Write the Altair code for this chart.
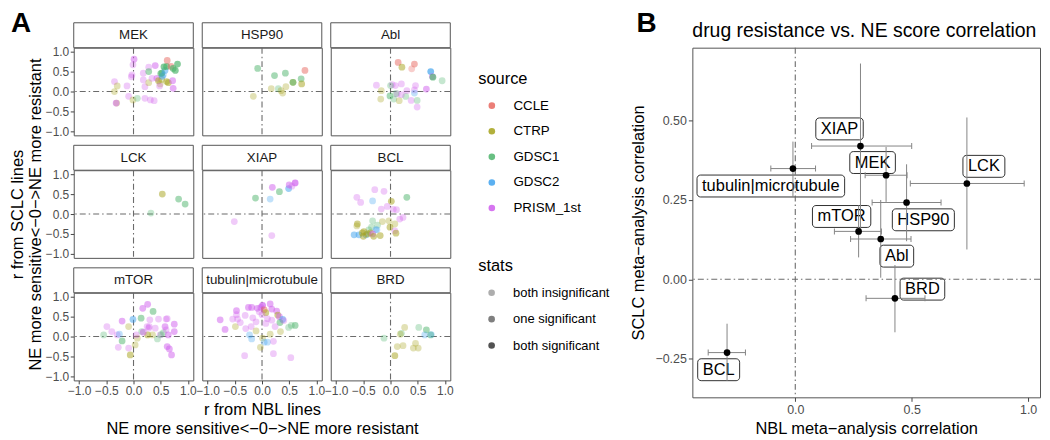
import altair as alt
import pandas as pd

FONT = "Liberation Sans"

# ---------------- Panel A data ----------------
SOURCES = ["CCLE", "CTRP", "GDSC1", "GDSC2", "PRISM_1st"]
SOURCE_COLORS = ["#E8675F", "#A5A21A", "#4DB46C", "#3EA2EE", "#CF5DED"]
SRC = {"C": "CCLE", "T": "CTRP", "G1": "GDSC1", "G2": "GDSC2", "P": "PRISM_1st"}
STATS = ["both insignificant", "one significant", "both significant"]
STATS_ALPHA = [0.32, 0.68, 1.0]

DRUGS = ["MEK", "HSP90", "Abl", "LCK", "XIAP", "BCL", "mTOR", "tubulin|microtubule", "BRD"]
A_TICKS = [-1.0, -0.5, 0.0, 0.5, 1.0]

# (r from NBL, r from SCLC, source, stats index)
MEK = [
    (0.01, 0.81, "P", 1), (-0.01, 0.67, "P", 0), (-0.35, 0.25, "P", 0), (-0.30, 0.14, "T", 0),
    (-0.35, 0.00, "T", 0), (-0.31, -0.29, "T", 0), (-0.32, -0.29, "P", 1), (-0.12, 0.14, "P", 0),
    (-0.04, 0.37, "P", 0), (-0.09, -0.12, "P", 0), (-0.01, -0.21, "T", 0), (0.07, -0.17, "G1", 0),
    (0.21, -0.17, "P", 0), (0.31, -0.21, "P", 0), (0.38, -0.23, "P", 0), (0.18, 0.46, "P", 0),
    (0.28, 0.61, "P", 0), (0.40, 0.65, "P", 1), (0.28, 0.50, "G1", 1), (0.18, 0.29, "P", 0),
    (0.21, 0.12, "P", 0), (0.28, 0.22, "T", 0), (0.34, 0.33, "P", 0), (0.43, 0.33, "P", 1),
    (0.46, 0.27, "T", 1), (0.49, 0.19, "T", 0), (0.52, 0.30, "T", 0), (0.48, 0.14, "P", 0),
    (0.50, 0.45, "G1", 1), (0.53, 0.38, "G2", 1), (0.52, 0.46, "G1", 2), (0.55, 0.42, "G2", 0),
    (0.58, 0.53, "G2", 1), (0.56, 0.62, "G1", 2), (0.61, 0.63, "G1", 2), (0.62, 0.78, "C", 1),
    (0.69, 0.63, "C", 1), (0.73, 0.58, "G1", 2), (0.77, 0.53, "G1", 2), (0.81, 0.69, "G1", 2),
    (0.61, 0.25, "T", 1), (0.64, 0.22, "T", 1), (0.72, 0.27, "P", 1), (0.73, 0.08, "P", 1),
    (-0.03, 0.42, "P", 0),
]
HSP90 = [
    (-0.08, 0.58, "G1", 1), (-0.16, -0.12, "T", 0), (0.17, 0.07, "T", 0), (0.23, 0.40, "G1", 1),
    (0.30, 0.07, "G1", 0), (0.35, 0.02, "T", 0), (0.38, -0.04, "T", 0), (0.43, 0.46, "G1", 1),
    (0.44, 0.12, "T", 0), (0.57, 0.23, "T", 1), (0.57, 0.23, "G1", 1), (0.72, 0.32, "G1", 1),
    (0.73, 0.19, "T", 1), (0.79, 0.53, "C", 1),
]
ABL = [
    (0.14, 0.73, "C", 1), (0.21, 0.61, "T", 1), (0.44, 0.69, "C", 1), (0.39, 0.57, "C", 0),
    (0.74, 0.50, "G2", 2), (0.77, 0.375, "P", 1), (0.78, 0.36, "G1", 2), (0.95, 0.27, "G1", 0),
    (-0.26, 0.16, "P", 0), (-0.17, 0.02, "T", 0), (-0.18, -0.19, "T", 0), (-0.01, -0.11, "G1", 1),
    (0.03, 0.17, "P", 0), (0.09, 0.15, "P", 0), (0.20, 0.19, "P", 0), (0.06, -0.19, "G1", 0),
    (0.16, -0.23, "T", 0), (0.28, -0.125, "G1", 0), (0.20, -0.08, "P", 0), (0.30, 0.02, "P", 0),
    (0.38, -0.225, "P", 0), (0.49, -0.225, "G1", 0), (0.49, -0.39, "P", 0), (0.44, 0.04, "P", 0),
    (0.46, 0.15, "P", 0), (0.44, -0.04, "G2", 0), (0.66, 0.06, "P", 1), (0.12, -0.06, "P", 0),
    (0.00, 0.15, "G1", 0), (0.10, -0.05, "G1", 0),
]
LCK = [
    (0.53, 0.50, "T", 1), (0.32, 0.025, "G1", 0), (0.83, 0.375, "G1", 1), (0.95, 0.25, "G1", 1),
]
XIAP = [
    (-0.51, -0.19, "P", 0), (-0.12, 0.40, "G1", 1), (0.15, 0.375, "G2", 0), (0.19, 0.67, "P", 1),
    (0.32, 0.56, "G1", 1), (0.49, 0.64, "G2", 1), (0.55, 0.70, "P", 0), (0.50, 0.73, "P", 1),
    (0.61, 0.78, "P", 2), (0.18, -0.54, "P", 0),
]
BCL = [
    (-0.62, 0.42, "P", 0), (-0.55, 0.29, "P", 0), (-0.29, 0.61, "P", 0), (-0.12, 0.57, "P", 0),
    (-0.33, 0.33, "G2", 0), (0.015, 0.32, "T", 1), (0.30, 0.42, "G1", 1), (-0.06, 0.19, "P", 0),
    (-0.17, 0.125, "P", 0), (0.11, 0.11, "P", 0), (0.05, 0.12, "P", 0), (0.23, -0.085, "P", 0),
    (0.17, -0.125, "P", 0), (-0.61, -0.25, "T", 1), (-0.62, -0.30, "T", 0), (-0.33, -0.17, "G1", 0),
    (-0.35, -0.33, "G1", 0), (-0.24, -0.28, "G1", 0), (-0.27, -0.39, "G2", 0), (-0.40, -0.40, "G1", 0),
    (-0.25, -0.40, "G2", 0), (-0.15, -0.19, "T", 0), (-0.03, -0.17, "T", 0), (-0.01, -0.33, "T", 1),
    (0.08, -0.25, "T", 0), (0.08, -0.42, "P", 0), (0.10, -0.48, "T", 1), (-0.67, -0.52, "G2", 1),
    (-0.58, -0.52, "G2", 1), (-0.45, -0.52, "G2", 1), (-0.52, -0.475, "T", 1), (-0.50, -0.56, "T", 1),
    (-0.49, -0.44, "T", 1), (-0.42, -0.50, "T", 1), (-0.37, -0.47, "T", 1), (-0.33, -0.50, "P", 1),
    (-0.31, -0.56, "T", 1), (-0.19, -0.54, "T", 1),
]
MTOR = [
    (-0.01, 0.43, "G2", 1), (0.17, 0.71, "P", 1), (0.26, 0.81, "P", 1), (0.36, 0.63, "G1", 1),
    (0.14, 0.46, "G1", 1), (-0.21, 0.39, "P", 1), (-0.09, 0.25, "T", 0), (-0.49, 0.25, "P", 0),
    (-0.40, 0.125, "P", 0), (-0.55, 0.04, "G1", 0), (-0.30, 0.04, "P", 0), (-0.26, 0.06, "G2", 0),
    (-0.21, -0.11, "G1", 1), (-0.28, -0.27, "P", 0), (-0.09, -0.29, "P", 0), (0.03, -0.21, "T", 0),
    (-0.06, -0.46, "T", 1), (0.07, -0.04, "T", 0), (0.15, 0.125, "G1", 0), (0.28, 0.21, "P", 0),
    (0.29, 0.25, "P", 0), (0.25, 0.25, "P", 0), (0.26, 0.04, "T", 1), (0.35, 0.04, "T", 0),
    (0.40, 0.21, "P", 0), (0.46, 0.44, "P", 0), (0.30, 0.42, "P", 0), (0.60, 0.44, "P", 0),
    (0.62, 0.45, "P", 0), (0.49, 0.04, "P", 0), (0.44, -0.06, "G1", 0), (0.51, 0.05, "G1", 0),
    (0.55, 0.10, "G1", 0), (0.58, 0.25, "P", 1), (0.60, 0.17, "P", 0), (0.64, 0.04, "P", 1),
    (0.62, -0.25, "P", 1), (0.66, -0.31, "P", 1), (0.70, -0.46, "P", 1), (0.75, 0.31, "P", 1),
    (0.75, 0.125, "P", 1), (0.05, 0.04, "P", 0), (0.18, 0.11, "P", 1),
]
TUBULIN = [
    (-0.77, 0.42, "P", 1), (-0.68, 0.18, "P", 1), (-0.47, 0.65, "P", 1), (-0.47, 0.55, "P", 0),
    (-0.54, 0.44, "P", 0), (-0.45, 0.44, "P", 0), (-0.49, 0.25, "T", 0), (-0.40, 0.35, "P", 0),
    (-0.31, 0.53, "P", 0), (-0.30, 0.20, "P", 0), (-0.25, 0.73, "P", 1), (-0.19, 0.73, "P", 1),
    (-0.09, 0.71, "P", 1), (-0.02, 0.73, "P", 1), (0.01, 0.78, "P", 2), (0.04, 0.67, "C", 1),
    (0.07, 0.60, "T", 1), (0.15, 0.82, "P", 1), (0.18, 0.69, "P", 1), (0.27, 0.64, "P", 1),
    (0.29, 0.54, "T", 1), (0.32, 0.50, "P", 1), (0.38, 0.43, "G2", 1), (0.33, 0.35, "G1", 1),
    (0.49, 0.23, "G1", 0), (0.54, 0.28, "G1", 0), (0.61, 0.28, "G1", 1), (-0.17, 0.47, "P", 0),
    (-0.11, 0.37, "P", 0), (-0.20, 0.25, "P", 0), (-0.11, 0.14, "T", 0), (0.07, 0.33, "P", 0),
    (0.18, 0.41, "P", 0), (0.24, 0.25, "P", 0), (0.34, 0.125, "T", 0), (0.40, 0.40, "P", 0),
    (0.15, 0.06, "T", 0), (0.01, -0.04, "T", 0), (-0.23, 0.04, "G2", 0), (-0.19, -0.06, "G2", 0),
    (0.04, -0.14, "G2", 0), (0.10, -0.14, "G2", 0), (0.21, -0.12, "P", 0), (-0.03, -0.27, "T", 0),
    (-0.32, -0.48, "P", 0), (0.21, -0.43, "P", 0), (0.53, -0.53, "P", 0), (0.00, 0.55, "P", 0),
    (-0.05, 0.62, "P", 0), (0.10, 0.45, "P", 0),
]
BRD = [
    (-0.12, -0.04, "G1", 0), (0.26, 0.23, "T", 0), (0.20, 0.08, "G1", 0), (0.18, 0.06, "T", 0),
    (0.52, 0.23, "G1", 0), (0.66, 0.17, "G1", 1), (0.63, 0.04, "G2", 0), (0.74, 0.04, "G1", 1),
    (0.75, 0.05, "G2", 0), (0.125, -0.25, "T", 0), (0.23, -0.23, "T", 0), (0.46, -0.17, "T", 0),
    (0.42, -0.29, "T", 0), (0.51, -0.29, "T", 0), (0.08, -0.48, "T", 1),
]
PANEL_POINTS = [MEK, HSP90, ABL, LCK, XIAP, BCL, MTOR, TUBULIN, BRD]

A_XTITLE = ["r from NBL lines", "NE more sensitive<\u22120\u2212>NE more resistant"]
A_YTITLE = ["r from SCLC lines", "NE more sensitive<\u22120\u2212>NE more resistant"]

# ---------------- Panel B data ----------------
B_TARGETS = ["XIAP", "MEK", "tubulin|microtubule", "LCK", "HSP90", "mTOR", "Abl", "BRD", "BCL"]
B_X = [0.28, 0.39, -0.01, 0.737, 0.478, 0.272, 0.367, 0.428, -0.293]
B_Y = [0.42, 0.328, 0.349, 0.302, 0.242, 0.151, 0.127, -0.06, -0.231]
B_X_LO = [0.07, 0.30, -0.105, 0.494, 0.33, 0.168, 0.2375, 0.304, -0.374]
B_X_HI = [0.50, 0.48, 0.087, 0.983, 0.626, 0.37, 0.497, 0.557, -0.214]
B_Y_LO = [0.16, 0.244, 0.26, 0.094, 0.12, 0.069, 0.005, -0.167, -0.32]
B_Y_HI = [0.68, 0.417, 0.434, 0.51, 0.3625, 0.233, 0.25, 0.045, -0.14]
LABEL_X = [0.19, 0.332, -0.105, 0.81, 0.55, 0.199, 0.436, 0.546, -0.329]
LABEL_Y = [0.474, 0.368, 0.294, 0.356, 0.1875, 0.198, 0.073, -0.031, -0.285]
B_XTICKS = [0.0, 0.5, 1.0]
B_YTICKS = [-0.25, 0.0, 0.25, 0.5]
B_TITLE = "drug resistance vs. NE score correlation"

# ---------------- styling ----------------
BORDER = "#555555"
REF_C = "#6b6b6b"
ERR_C = "#858585"
DASH = [6, 3, 1.5, 3]
AXIS_LABEL_C = "#4d4d4d"

PW, PH, STRIP = 120, 88, 25
A_XDOM = [-1.1, 1.1]
A_YDOM = [-1.1, 1.1]
LETTER_BASE = -15.6  # baseline of the panel letters, relative to the plot top

COLOR_ENC = alt.Color(
    "source:N",
    scale=alt.Scale(domain=SOURCES, range=SOURCE_COLORS),
    legend=alt.Legend(
        title="source", orient="none", legendX=406, legendY=23,
        titleFontSize=16.5, titleFontWeight="normal", titleColor="black", titlePadding=12,
        labelFontSize=13.4, labelColor="black", labelOffset=15,
        symbolType="circle", symbolSize=44, symbolOpacity=0.85, symbolStrokeWidth=0,
        symbolOffset=7, rowPadding=10.7, padding=0,
    ),
)
OPAC_ENC = alt.Opacity(
    "stats:O",
    scale=alt.Scale(domain=STATS, range=STATS_ALPHA),
    legend=alt.Legend(
        title="stats", orient="none", legendX=406, legendY=211,
        titleFontSize=16.5, titleFontWeight="normal", titleColor="black", titlePadding=12,
        labelFontSize=13, labelColor="black", labelOffset=15,
        symbolType="circle", symbolSize=44, symbolFillColor="black", symbolStrokeWidth=0,
        symbolOffset=7, rowPadding=12.5, padding=0,
    ),
)


def cell(i):
    name = DRUGS[i]
    row, col = divmod(i, 3)
    df = pd.DataFrame(PANEL_POINTS[i], columns=["x", "y", "src", "sig"])
    df["source"] = df["src"].map(SRC)
    df["stats"] = df["sig"].map(lambda k: STATS[k])
    xs = alt.Scale(domain=A_XDOM, nice=False, zero=False)
    ys = alt.Scale(domain=A_YDOM, nice=False, zero=False)

    if row == 2:
        xax = alt.Axis(values=A_TICKS, format=".1f", labelFlush=False, labelOverlap=False,
                       tickSize=3.5, labelPadding=1.5, labelFontSize=12,
                       titlePadding=5, titleFontSize=16.5, titleLineHeight=19)
    else:
        xax = None
    xtitle = A_XTITLE if (row == 2 and col == 1) else None
    if col == 0:
        yax = alt.Axis(values=A_TICKS, format=".1f", labelFlush=False, labelOverlap=False,
                       tickSize=3.5, labelPadding=1.5, labelFontSize=12,
                       titlePadding=2, titleFontSize=16.5, titleLineHeight=18)
    else:
        yax = None
    ytitle = A_YTITLE if (row == 1 and col == 0) else None

    def xe(f):
        return alt.X(f, type="quantitative", scale=xs, axis=xax, title=xtitle)

    def ye(f):
        return alt.Y(f, type="quantitative", scale=ys, axis=yax, title=ytitle)

    zero = pd.DataFrame({"z": [0.0]})
    vline = alt.Chart(zero).mark_rule(color=REF_C, strokeDash=DASH, strokeWidth=1.1).encode(
        x=xe("z"))
    hline = alt.Chart(zero).mark_rule(color=REF_C, strokeDash=DASH, strokeWidth=1.1).encode(
        y=ye("z"))
    pts = alt.Chart(df).mark_circle(size=46).encode(
        x=xe("x"), y=ye("y"), color=COLOR_ENC, opacity=OPAC_ENC)
    strip_df = pd.DataFrame({"drug": [name]})
    strip_box = alt.Chart(strip_df).mark_rect(fill="white", stroke=BORDER, strokeWidth=1).encode(
        x=alt.value(0), x2=alt.value(PW), y=alt.value(-STRIP), y2=alt.value(0))
    strip_text = alt.Chart(strip_df).mark_text(
        fontSize=13.4, color="#1a1a1a", baseline="middle").encode(
        text="drug:N", y=alt.value(-STRIP / 2))
    layers = [vline, hline, pts, strip_box, strip_text]
    if i == 0:
        letter = alt.Chart(pd.DataFrame({"t": ["A"]})).mark_text(
            fontSize=28, fontWeight="bold", align="left", baseline="alphabetic", color="black").encode(
            text="t:N", x=alt.value(-63), y=alt.value(LETTER_BASE))
        layers.append(letter)
    return alt.layer(*layers).properties(width=PW, height=PH)


panel_a = alt.concat(*[cell(i) for i in range(9)], columns=3,
                     spacing={"row": 10 + STRIP, "column": 9}, bounds="flush")

# ---------------- Panel B ----------------
HELV = {'A': 667, 'B': 667, 'C': 722, 'D': 722, 'E': 667, 'H': 722, 'I': 278, 'K': 667, 'L': 556,
        'M': 833, 'O': 778, 'P': 667, 'R': 722, 'S': 667, 'T': 611, 'X': 667, 'a': 556, 'b': 556,
        'c': 500, 'e': 556, 'i': 222, 'l': 222, 'm': 833, 'n': 556, 'o': 556, 'r': 333, 't': 278,
        'u': 556, '|': 260}


def text_px(s, fs):
    return sum(HELV.get(ch, 556) for ch in s) * fs / 1000.0


BW, BH = 349, 351
B_XDOM = [-0.442, 1.051]
B_YDOM = [-0.372, 0.73]
BPX = BW / (B_XDOM[1] - B_XDOM[0])
BPY = BH / (B_YDOM[1] - B_YDOM[0])
LABEL_FS = 16.5

bdf = pd.DataFrame({
    "target": B_TARGETS, "x": B_X, "y": B_Y, "xlo": B_X_LO, "xhi": B_X_HI,
    "ylo": B_Y_LO, "yhi": B_Y_HI, "lx": LABEL_X, "ly": LABEL_Y,
})
half_w = [(text_px(t, LABEL_FS) + 10) / 2 / BPX for t in B_TARGETS]
half_h = 11 / BPY
bdf["bx1"] = bdf["lx"] - half_w
bdf["bx2"] = bdf["lx"] + half_w
bdf["by1"] = bdf["ly"] - half_h
bdf["by2"] = bdf["ly"] + half_h

bxs = alt.Scale(domain=B_XDOM, nice=False, zero=False)
bys = alt.Scale(domain=B_YDOM, nice=False, zero=False)
bxax = alt.Axis(values=B_XTICKS, format=".1f", labelFlush=False, tickSize=4, labelPadding=2,
                labelFontSize=12.5, titlePadding=5, titleFontSize=16.5)
byax = alt.Axis(values=B_YTICKS, format=".2f", labelFlush=False, tickSize=4, labelPadding=2,
                labelFontSize=12.5, titlePadding=8, titleFontSize=16.5)
BXT = "NBL meta\u2212analysis correlation"
BYT = "SCLC meta\u2212analysis correlation"


def bx(f):
    return alt.X(f, type="quantitative", scale=bxs, axis=bxax, title=BXT)


def by(f):
    return alt.Y(f, type="quantitative", scale=bys, axis=byax, title=BYT)


bbase = alt.Chart(bdf)
boxes = bbase.mark_rect(fill="white", stroke="#1a1a1a", strokeWidth=0.9, cornerRadius=3.5).encode(
    x=bx("bx1"), x2="bx2", y=by("by1"), y2="by2")
labels = bbase.mark_text(fontSize=LABEL_FS, color="black", baseline="middle").encode(
    x=bx("lx"), y=by("ly"), text="target:N")
bzero = pd.DataFrame({"z": [0.0]})
bv = alt.Chart(bzero).mark_rule(color=REF_C, strokeDash=DASH, strokeWidth=1.1).encode(x=bx("z"))
bh = alt.Chart(bzero).mark_rule(color=REF_C, strokeDash=DASH, strokeWidth=1.1).encode(y=by("z"))
xerr = bbase.mark_rule(color=ERR_C, strokeWidth=1).encode(x=bx("xlo"), x2="xhi", y=by("y"))
cap_lo = bbase.mark_tick(orient="vertical", size=6, thickness=1, color=ERR_C, opacity=1).encode(
    x=bx("xlo"), y=by("y"))
cap_hi = bbase.mark_tick(orient="vertical", size=6, thickness=1, color=ERR_C, opacity=1).encode(
    x=bx("xhi"), y=by("y"))
yerr = bbase.mark_rule(color=ERR_C, strokeWidth=1).encode(x=bx("x"), y=by("ylo"), y2="yhi")
bpts = bbase.mark_circle(size=45, color="black", opacity=1).encode(x=bx("x"), y=by("y"))
bletter = alt.Chart(pd.DataFrame({"t": ["B"]})).mark_text(
    fontSize=28, fontWeight="bold", align="left", baseline="alphabetic", color="black").encode(
    text="t:N", x=alt.value(-56), y=alt.value(LETTER_BASE))
btitle = alt.Chart(pd.DataFrame({"t": [B_TITLE]})).mark_text(
    fontSize=19.5, align="left", baseline="alphabetic", color="black").encode(
    text="t:N", x=alt.value(0), y=alt.value(-11))

panel_b = alt.layer(boxes, labels, bv, bh, xerr, cap_lo, cap_hi, yerr, bpts, bletter, btitle).properties(
    width=BW, height=BH)

chart = alt.concat(panel_a, panel_b, columns=2, align="none", spacing=176).properties(padding=0).configure(
    font=FONT
).configure_view(
    stroke=BORDER, strokeWidth=1
).configure_axis(
    domain=False, grid=False, labelColor=AXIS_LABEL_C, tickColor="#444444",
    titleColor="black", titleFontWeight="normal", labelFont=FONT, titleFont=FONT,
).configure_legend(
    labelFont=FONT, titleFont=FONT,
).configure_title(font=FONT)

chart.save("out.html", embed_options={"renderer": "svg", "actions": False})
